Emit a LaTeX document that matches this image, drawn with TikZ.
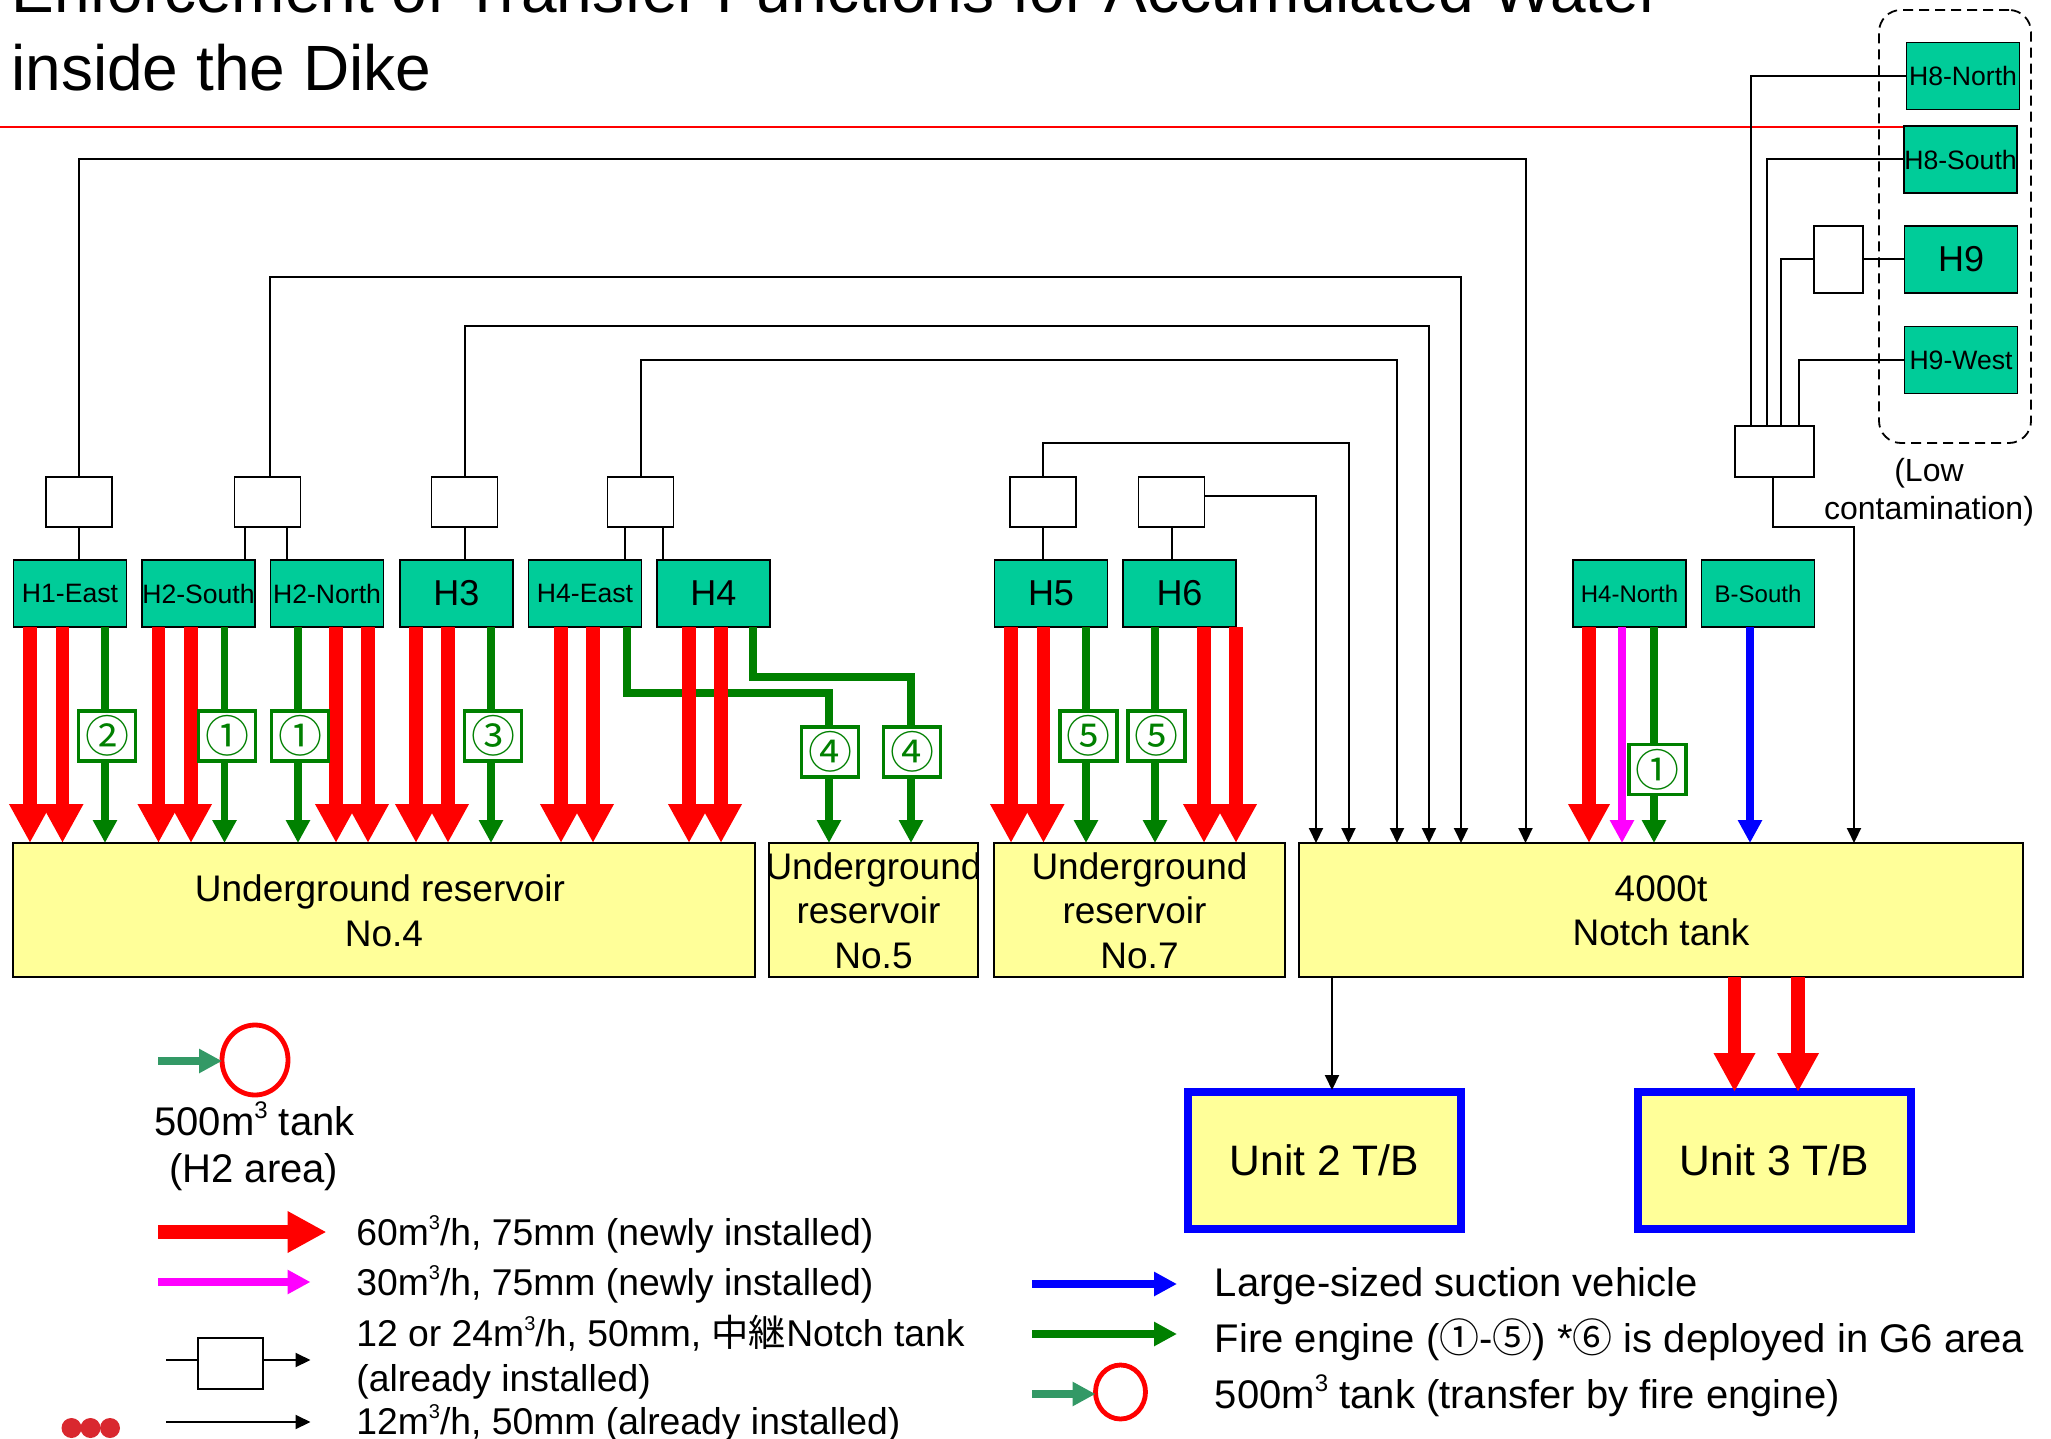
\documentclass[tikz,border=0pt]{standalone}
\usepackage{fontspec}
\setmainfont{Liberation Sans}
\newfontfamily\cjkfont{Noto Sans CJK JP}
\usetikzlibrary{arrows.meta, positioning, shapes.geometric}
\definecolor{boxgreen}{HTML}{00CC99}
\definecolor{tankyellow}{HTML}{FFFF99}
\definecolor{enginegreen}{HTML}{008000}
\definecolor{seagreen}{HTML}{339966}
\definecolor{keymagenta}{HTML}{FF00FF}
\definecolor{logored}{HTML}{D9282F}
\newcommand{\cubeup}[1]{\raisebox{.42em}{\fontsize{#1}{#1}\selectfont 3}}

\begin{document}
\begin{tikzpicture}[
  x=0.5pt, y=-0.5pt,
  hbox/.style    = {rectangle, draw=black, line width=0.9pt, fill=boxgreen, outer sep=0pt, inner sep=0pt,
                    minimum width=56.5pt, minimum height=33.5pt, font=\fontsize{13.3}{15}\selectfont},
  hboxbig/.style = {hbox, font=\fontsize{18}{20}\selectfont},
  hboxsm/.style  = {hbox, font=\fontsize{12}{14}\selectfont},
  relay/.style   = {rectangle, draw=black, line width=0.9pt, fill=white, outer sep=0pt,
                    minimum width=33pt, minimum height=25pt},
  basin/.style   = {rectangle, draw=black, line width=0.9pt, fill=tankyellow, outer sep=0pt, inner sep=0pt,
                    minimum height=67pt},
  basintext/.style = {align=center, inner sep=0pt, yshift=-0.3pt, font=\fontsize{18.5}{22.2}\selectfont},
  unitbox/.style = {rectangle, draw=blue, line width=4pt, fill=tankyellow, outer sep=0pt,
                    minimum width=136.5pt, minimum height=68.5pt, font=\fontsize{21.3}{24}\selectfont},
  tagbox/.style  = {rectangle, draw=enginegreen, line width=1.7pt, fill=white, outer sep=0pt, inner sep=0pt,
                    minimum width=28.5pt, minimum height=25pt, text=enginegreen, font=\cjkfont\fontsize{22}{23}\selectfont},
  tankring/.style= {ellipse, draw=red, line width=2.4pt, fill=white, outer sep=0pt, inner sep=0pt},
  keytext/.style = {anchor=base west, inner sep=0pt, font=\fontsize{20}{24}\selectfont},
  keysmall/.style= {anchor=base west, inner sep=0pt, font=\fontsize{18.65}{22}\selectfont},
  wire/.style    = {line width=1pt},
  wirearr/.style = {-{Triangle[length=7.5pt,width=7pt]}, line width=1pt},
  redarr/.style  = {-{Triangle[length=19.5pt,width=19.5pt]}, line width=6.7pt, red},
  greenarr/.style= {-{Triangle[length=11.5pt,width=11.5pt]}, line width=3.8pt, enginegreen},
  magarr/.style  = {-{Triangle[length=11.5pt,width=11.5pt]}, line width=3.8pt, keymagenta},
  bluearr/.style = {-{Triangle[length=11.5pt,width=11.5pt]}, line width=3.8pt, blue},
  seaarr/.style  = {-{Triangle[length=11.5pt,width=11.5pt]}, line width=3.8pt, seagreen}
]
\useasboundingbox (0,0) rectangle (2051,1439);

%% ── Title and rule ───────────────────────────────────────────────────────────
\node[anchor=base west, inner sep=0pt, font=\fontsize{32}{36}\selectfont] (titleA) at (11,13)
      {Enforcement of Transfer Functions for Accumulated Water};
\node[anchor=base west, inner sep=0pt, font=\fontsize{32}{36}\selectfont] (titleB) at (11,91) {inside the Dike};
\coordinate (ruleL) at (0,127);

%% ── Source boxes: bottom row ─────────────────────────────────────────────────
\node[hbox]    (h1e) at (70,593.5)   {H1-East};
\node[hbox]    (h2s) at (198.5,593.5){H2-South};
\node[hbox]    (h2n) at (327,593.5)  {H2-North};
\node[hboxbig] (h3)  at (456.5,593.5){H3};
\node[hbox]    (h4e) at (585,593.5)  {H4-East};
\node[hboxbig] (h4)  at (713.5,593.5){H4};
\node[hboxbig] (h5)  at (1051,593.5) {H5};
\node[hboxbig] (h6)  at (1179.5,593.5){H6};
\node[hboxsm]  (h4n) at (1629.5,593.5){H4-North};
\node[hboxsm]  (bs)  at (1758,593.5) {B-South};

%% ── Source boxes: low contamination group ────────────────────────────────────
\draw[red, line width=1.3pt] (ruleL) -- (ruleL -| 1904,0);
\node[hbox] (h8n) at (1963,76)    {H8-North};
\node[hbox] (h8s) at (1960.5,159.5){H8-South};
\node[hboxbig] (h9) at (1961,259.5){H9};
\node[hbox] (h9w) at (1961,360)   {H9-West};
\node[draw=black, dash pattern=on 5pt off 3pt, line width=0.9pt, rounded corners=11pt, minimum width=76pt,
      minimum height=216.5pt, outer sep=0pt] (lowgroup) at (1955,226.5) {};
\node[align=center, inner sep=0pt, font=\fontsize{16}{19}\selectfont] (lowtext) at (1929,492.5) {(Low\\contamination)};

%% ── Relay notch tanks ────────────────────────────────────────────────────────
\node[relay] (rA) at (79,502)     {};
\node[relay] (rB) at (267.5,502)  {};
\node[relay] (rC) at (464.5,502)  {};
\node[relay] (rD) at (640.5,502)  {};
\node[relay] (rE) at (1043,502)   {};
\node[relay] (rF) at (1171.5,502) {};
\node[relay, minimum width=39.5pt, minimum height=25.5pt] (rG) at (1774.5,451.5) {};
\node[relay, minimum width=24.5pt, minimum height=33.5pt] (rH) at (1838.5,259.5) {};

%% ── Receiving tanks ──────────────────────────────────────────────────────────
\node[basin, minimum width=371pt]  (res4) at (384,910)    {};
\node[basin, minimum width=104.5pt](res5) at (873.5,910)  {};
\node[basin, minimum width=145.5pt](res7) at (1139.5,910) {};
\node[basin, minimum width=362pt]  (notch)at (1661,910)   {};
\node[basintext] (res4text) at (res4)  {Underground reservoir\hspace*{4pt}\\No.4};
\node[basintext] (res5text) at (res5)  {Underground\\\mbox{reservoir\hspace*{5pt}}\\No.5};
\node[basintext] (res7text) at (res7)  {Underground\\\mbox{reservoir\hspace*{5pt}}\\No.7};
\node[basintext] (notchtext) at (notch){4000t\\Notch tank};
\node[unitbox] (u2) at (1324.5,1160.5) {Unit 2 T/B};
\node[unitbox] (u3) at (1774.5,1160.5) {Unit 3 T/B};

%% ── Already installed lines ──────────────────────────────────────────────────
\draw[wire] (h1e.north -| rA) -- (rA);
\draw[wire] (245,560) -- (245,527);
\draw[wire] (287,560) -- (287,527);
\draw[wire] (h3.north -| rC) -- (rC);
\draw[wire] (625,560) -- (625,527);
\draw[wire] (663,560) -- (663,527);
\draw[wire] (h5.north -| rE) -- (rE);
\draw[wire] (h6.north -| rF) -- (rF);

\coordinate (wireA) at (1525.5,159);
\coordinate (wireB) at (1461,277);
\coordinate (wireC) at (1429,326);
\coordinate (wireD) at (1397,360);
\coordinate (wireE) at (1348.5,443);
\coordinate (wireF) at (1316,496);
\coordinate (wireG) at (1854,527);
\draw[wirearr] (rA.north) |- (wireA) -- (wireA |- notch.north);
\draw[wirearr] ([xshift=1.25pt]rB.north) |- (wireB) -- (wireB |- notch.north);
\draw[wirearr] (rC.north) |- (wireC) -- (wireC |- notch.north);
\draw[wirearr] (rD.north) |- (wireD) -- (wireD |- notch.north);
\draw[wirearr] (rE.north) |- (wireE) -- (wireE |- notch.north);
\draw[wirearr] (rF.east |- wireF) -- (wireF) -- (wireF |- notch.north);
\draw[wirearr] ([xshift=-0.75pt]rG.south) |- (wireG) -- (wireG |- notch.north);
\draw[wire] (h8n.west) -| (1751,426);
\draw[wire] (h8s.west) -| (1767,426);
\draw[wire] (rH.west) -| (1781,426);
\draw[wire] (h9.west) -- (rH.east);
\draw[wire] (h9w.west) -| (1799,426);
\draw[wirearr] (1332,977) -- (1332,1090);

%% ── Fire engine lines ────────────────────────────────────────────────────────
\foreach \src/\dst/\xx in {h1e/res4/105, h2s/res4/224.5, h2n/res4/298, h3/res4/491,
                           h5/res7/1086, h6/res7/1155, h4n/notch/1654}
  \draw[greenarr] (\xx,0 |- \src.south) -- (\xx,0 |- \dst.north);
\draw[greenarr] (627,627) |- (829,693) -- (829,843);
\draw[greenarr] (753,627) |- (911,677) -- (911,843);

%% ── New 60 m3/h lines ────────────────────────────────────────────────────────
\foreach \src/\dst/\xx in {h1e/res4/30, h1e/res4/62.5, h2s/res4/158.5, h2s/res4/191,
                           h2n/res4/336, h2n/res4/368, h3/res4/416, h3/res4/448,
                           h4e/res4/561, h4e/res4/593, h4/res4/689, h4/res4/721,
                           h5/res7/1011, h5/res7/1043.5, h6/res7/1204, h6/res7/1236,
                           h4n/notch/1589}
  \draw[redarr] (\xx,0 |- \src.south) -- (\xx,0 |- \dst.north);
\draw[magarr]  (1622,0 |- h4n.south) -- (1622,0 |- notch.north);
\draw[bluearr] (1750,0 |- bs.south)  -- (1750,0 |- notch.north);
\draw[redarr]  (1734.5,0 |- notch.south) -- (1734.5,0 |- u3.north);
\draw[redarr]  (1798,0 |- notch.south)   -- (1798,0 |- u3.north);

%% ── Engine number tags ───────────────────────────────────────────────────────
\node[tagbox] (tagA) at (107,736)  {②};
\node[tagbox] (tagB) at (227,736)  {①};
\node[tagbox] (tagC) at (300,736)  {①};
\node[tagbox] (tagD) at (493,736)  {③};
\node[tagbox] (tagE) at (830,752)    {④};
\node[tagbox] (tagF) at (912,752)  {④};
\node[tagbox] (tagG) at (1088.5,736){⑤};
\node[tagbox] (tagH) at (1156.5,736){⑤};
\node[tagbox] (tagI) at (1657.5,769.5) {①};

%% ── Legend, left ─────────────────────────────────────────────────────────────
\node[tankring, minimum width=33pt, minimum height=35pt] (ringA) at (255,1060) {};
\coordinate (keyA) at (158,1061);
\draw[seaarr] (keyA) -- (keyA -| ringA.west);
\node[keytext] (ringtextA) at (154,1135) {500m\cubeup{12} tank};
\node[keytext] (ringtextB) at (169,1182) {(H2 area)};

\coordinate (keyB) at (158,1232);
\coordinate (keyBe) at (326.5,1232);
\draw[redarr] (keyB) -- (keyBe);
\node[keysmall] (txtB) at (356,1245) {60m\cubeup{10}/h, 75mm (newly installed)};
\coordinate (keyC) at (158,1282);
\coordinate (keyCe) at (310.5,1282);
\draw[magarr] (keyC) -- (keyCe);
\node[keysmall] (txtC) at (356,1295) {30m\cubeup{10}/h, 75mm (newly installed)};
\node[relay, minimum width=32.5pt, minimum height=25.5pt] (keyrelay) at (230.5,1363.5) {};
\coordinate (keyD) at (166,1360);
\coordinate (keyDe) at (310.5,1360);
\draw[wire] (keyD) -- (keyD -| keyrelay.west);
\draw[wirearr] (keyDe -| keyrelay.east) -- (keyDe);
\node[keysmall] (txtD) at (356,1346) {12 or 24m\cubeup{10}/h, 50mm, {\cjkfont 中継}Notch tank};
\node[keysmall] (txtDb) at (356,1391) {(already installed)};
\coordinate (keyE) at (166,1422);
\coordinate (keyEe) at (310.5,1422);
\draw[wirearr] (keyE) -- (keyEe);
\node[keysmall] (txtE) at (356,1434) {12m\cubeup{10}/h, 50mm (already installed)};

%% ── Legend, right ────────────────────────────────────────────────────────────
\coordinate (keyF) at (1032,1284);
\coordinate (keyFe) at (1177,1284);
\draw[bluearr] (keyF) -- (keyFe);
\node[keytext] (txtF) at (1214.5,1296) {Large-sized suction vehicle};
\coordinate (keyG) at (1032,1334);
\coordinate (keyGe) at (1177,1334);
\draw[greenarr] (keyG) -- (keyGe);
\node[keytext] (txtG) at (1214.5,1352) {Fire engine ({\cjkfont ①}-{\cjkfont ⑤}) *{\cjkfont ⑥} is deployed in G6 area};
\node[tankring, minimum width=25pt, minimum height=27pt] (ringB) at (1120.5,1392) {};
\coordinate (keyH) at (1032,1394);
\draw[seaarr] (keyH) -- (keyH -| ringB.west);
\node[keytext] (txtH) at (1214.5,1408) {500m\cubeup{12} tank (transfer by fire engine)};

%% ── Corner dots ──────────────────────────────────────────────────────────────
\foreach \xx/\nn in {71.5/a, 90.5/b, 110/c}
  \node[circle, fill=logored, minimum size=10pt, inner sep=0pt] (dot\nn) at (\xx,1428) {};

\end{tikzpicture}
\end{document}
